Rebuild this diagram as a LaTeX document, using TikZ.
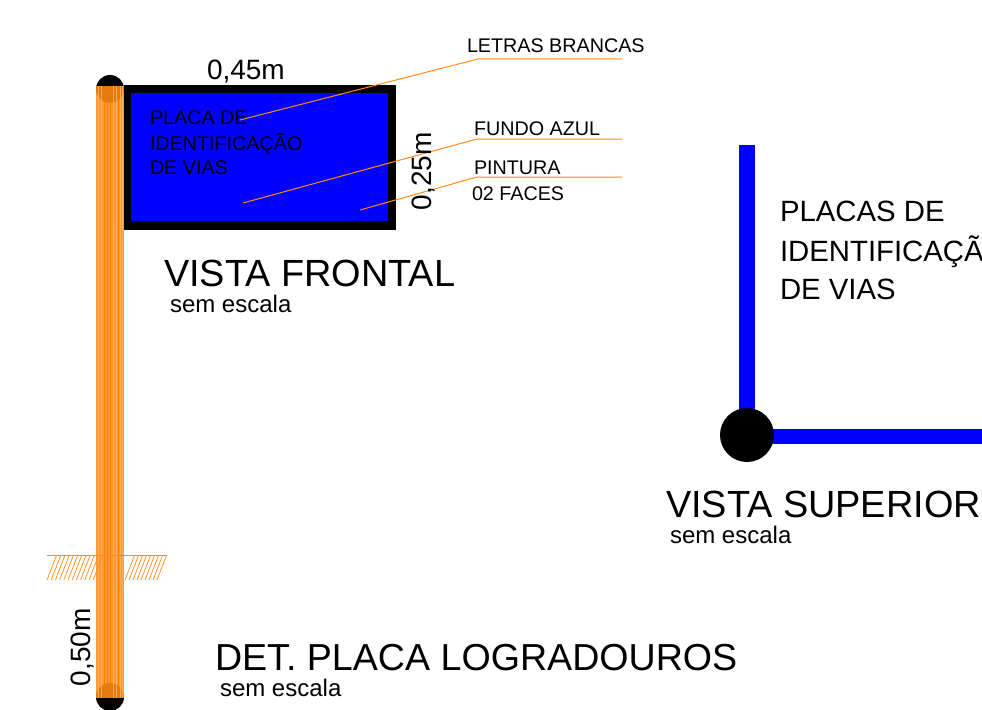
\documentclass[tikz,border=0pt]{standalone}
\usepackage{fontspec}
\setmainfont{Liberation Sans}
\definecolor{poleorange}{HTML}{FF8C1A}
\definecolor{polelight}{HTML}{FFB060}
\definecolor{poledark}{HTML}{F57C00}
\definecolor{plateblue}{HTML}{0000FF}
\tikzset{
  txt/.style={anchor=base west,inner sep=0pt,outer sep=0pt,text=black},
  big/.style={txt,font=\fontsize{28.4}{28.4}\selectfont},
  bigger/.style={txt,font=\fontsize{28.2}{28.2}\selectfont},
  mid/.style={txt,font=\fontsize{21}{21}\selectfont},
  label/.style={txt,font=\fontsize{22}{22}\selectfont},
  small/.style={txt,font=\fontsize{18}{18}\selectfont},
  note/.style={txt,font=\fontsize{14.8}{14.8}\selectfont},
  sign/.style={txt,font=\fontsize{14.8}{14.8}\selectfont},
  leader/.style={draw=poleorange,line width=0.75pt},
  hatch/.style={draw=poleorange,line width=0.55pt},
  dim/.style={txt,rotate=90,font=\fontsize{21}{21}\selectfont},
}
\begin{document}
\begin{tikzpicture}[x=0.75pt,y=-0.75pt]
\useasboundingbox (0,0) rectangle (982,710);
\clip (0,0) rectangle (982,710);
% plate
\fill[black] (124,85) rectangle (396,230);
\fill[plateblue] (131,93) rectangle (388,221);
% pole end circles
\fill[black] (110,89) circle (14);
\fill[black] (110,697) circle (14);
% pole
\fill[poleorange,opacity=0.88] (96,86) rectangle (124,698);
\foreach \x/\c in {98/polelight,101/polelight,104/poledark,107/poledark,110/poledark,113/polelight,116/polelight,118/poledark,120/polelight,122.5/polelight}{
  \draw[\c,line width=0.75pt,opacity=0.85] (\x,86) -- (\x,698);
}
% ground
\draw[hatch] (47,555) -- (167,555);
\foreach \x in {47,51.2,...,96}{ \draw[hatch] (\x,580) -- (\x+9.5,555.5); }
\foreach \x in {125,129,...,158}{ \draw[hatch] (\x,580) -- (\x+9.5,555.5); }
% leaders
\coordinate (l1a) at (240,120); \coordinate (l1b) at (478,59); \coordinate (l1c) at (622,59);
\coordinate (l2a) at (243,203); \coordinate (l2b) at (477,139); \coordinate (l2c) at (622,139);
\coordinate (l3a) at (360,210); \coordinate (l3b) at (477,177); \coordinate (l3c) at (622,177);
% sign text
\node[sign] (s1) at (150,124) {PLACA DE};
\node[sign] (s2) at (150,151) {IDENTIFICAÇÃO};
\node[sign] (s3) at (150,174) {DE VIAS};
\draw[leader] (l1a) -- (l1b) -- (l1c);
\draw[leader] (l2a) -- (l2b) -- (l2c);
\draw[leader] (l3a) -- (l3b) -- (l3c);
% labels front
\node[note] (n1) at (467,53) {LETRAS BRANCAS};
\node[note] (n2) at (474,135) {FUNDO AZUL};
\node[note] (n3) at (474,174) {PINTURA};
\node[note] (n4) at (472,200) {02 FACES};
\node[mid] (d1) at (207,79.5) {0,45m};
\node[dim] (d2) at (431,210) {0,25m};
\node[dim] (d3) at (90,686) {0,50m};
\node[big] (t1) at (164,286) {VISTA FRONTAL};
\node[small] (e1) at (170,312) {sem escala};
% top view
\fill[plateblue] (739,145) rectangle (755,435);
\fill[plateblue] (747,429) rectangle (982,444);
\fill[black] (747,435) circle (27);
\node[label] (p1) at (780,221) {PLACAS DE};
\node[label] (p2) at (780,261) {IDENTIFICAÇÃO};
\node[label] (p3) at (780,299) {DE VIAS};
\node[big] (t2) at (666,517) {VISTA SUPERIOR};
\node[small] (e2) at (670,543) {sem escala};
\node[bigger] (t3) at (215,670) {DET. PLACA LOGRADOUROS};
\node[small] (e3) at (220,696) {sem escala};
\end{tikzpicture}
\end{document}
